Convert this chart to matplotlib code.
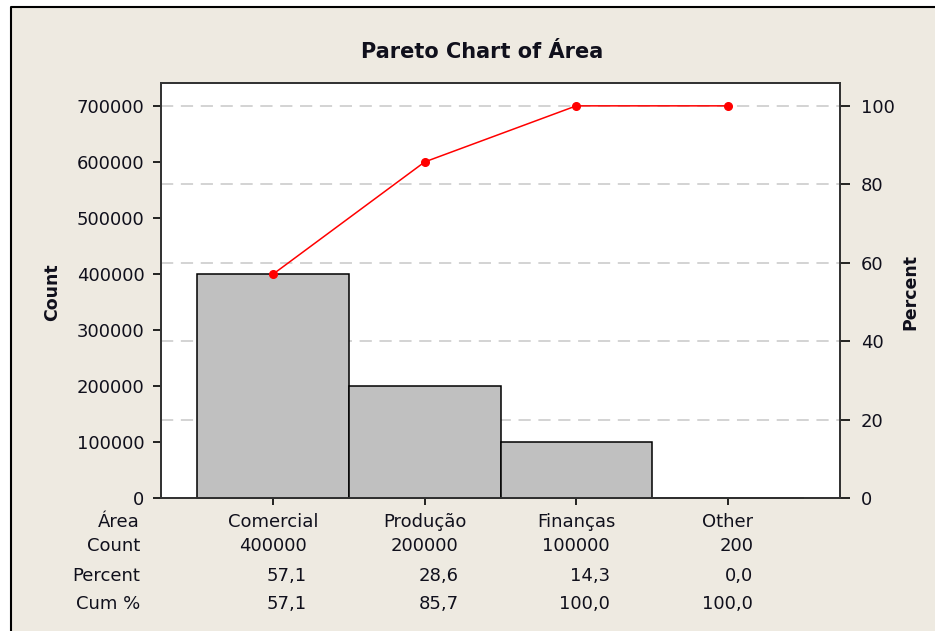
import matplotlib
matplotlib.use('Agg')
import matplotlib.pyplot as plt
import matplotlib.transforms as mtransforms
from matplotlib.patches import Rectangle
from matplotlib.lines import Line2D

# Pareto data
categories = ['Comercial', 'Produção', 'Finanças', 'Other']
counts = [400000, 200000, 100000, 200]
percents = [57.1, 28.6, 14.3, 0.0]
cum_percents = [57.1, 85.7, 100.0, 100.0]
count_ticks = [0, 100000, 200000, 300000, 400000, 500000, 600000, 700000]
percent_ticks = [0, 20, 40, 60, 80, 100]
row_labels = ['Área', 'Count', 'Percent', 'Cum %']

total = sum(counts)
bg = '#EEEAE1'
txt = '#10101c'
plt.rcParams['font.family'] = 'DejaVu Sans'

fig = plt.figure(figsize=(9.35, 6.31), dpi=100, facecolor=bg)
# white margin above and left of the framed panel
fx, fy = 11 / 935, 624 / 631
fig.patches.append(Rectangle((0, fy), 1, 1 - fy, transform=fig.transFigure,
                             facecolor='white', edgecolor='none', zorder=-10))
fig.patches.append(Rectangle((0, 0), fx, 1, transform=fig.transFigure,
                             facecolor='white', edgecolor='none', zorder=-10))
fig.lines.append(Line2D([fx, fx, 1], [0, fy, fy], transform=fig.transFigure,
                        color='black', linewidth=1.5, zorder=-9))

ax = fig.add_axes([161 / 935, 133 / 631, 679 / 935, 415 / 631])
ax.set_facecolor('white')
ymax = 741000
ax.set_ylim(0, ymax)
ax.set_xlim(-0.74, 3.74)

x = list(range(len(categories)))
bars = ax.bar(x, counts, width=1.0, color='#C0C0C0', edgecolor='black', linewidth=1.1, zorder=3)
for b in bars:
    b.set_clip_on(False)

# dashed grid at the percent ticks, behind the bars
for p in percent_ticks[1:]:
    ax.axhline(p / 100 * total, color='#C8C8C8', linestyle=(0, (8, 5)), linewidth=1.1, zorder=0)

ax.set_yticks(count_ticks)
ax.set_yticklabels([str(v) for v in count_ticks])
ax.set_xticks(x)
ax.set_xticklabels([])
ax.tick_params(axis='y', direction='out', length=6, width=1.2, pad=6, labelsize=13, labelcolor=txt)
ax.tick_params(axis='x', direction='out', length=5, width=1.2, labelsize=13)
for s in ax.spines.values():
    s.set_color('#333333')
    s.set_linewidth(1.3)

ax2 = ax.twinx()
ax2.set_ylim(0, ymax / total * 100)
ax2.plot(x, cum_percents, color='#FF0000', linewidth=1.1, marker='o', markersize=5.5, zorder=3)
ax2.set_yticks(percent_ticks)
ax2.tick_params(axis='y', direction='out', length=7, width=1.2, pad=8, labelsize=13, labelcolor=txt)
for s in ax2.spines.values():
    s.set_color('#333333')
    s.set_linewidth(1.3)

fig.text(482 / 935, (631 - 52) / 631, 'Pareto Chart of Área', ha='center', va='center',
         fontsize=15, fontweight='bold', color=txt)
fig.text(52 / 935, (631 - 292) / 631, 'Count', rotation=90, ha='center', va='center',
         fontsize=12.5, fontweight='bold', color=txt)
fig.text(910 / 935, (631 - 292) / 631, 'Percent', rotation=90, ha='center', va='center',
         fontsize=12.5, fontweight='bold', color=txt)

# table under the axis
baselines = [(631 - 527) / 631, (631 - 551) / 631, (631 - 581) / 631, (631 - 609) / 631]
for lab, yb in zip(row_labels, baselines):
    fig.text(140 / 935, yb, lab, ha='right', va='baseline', fontsize=13, color=txt)

renderer = fig.canvas.get_renderer()
blend = mtransforms.blended_transform_factory(ax.transData, fig.transFigure)
for i, cat in enumerate(categories):
    rows = [f'{counts[i]}', f'{percents[i]:.1f}'.replace('.', ','),
            f'{cum_percents[i]:.1f}'.replace('.', ',')]
    widths = []
    for r in rows:
        t = fig.text(0, 0, r, fontsize=13)
        widths.append(t.get_window_extent(renderer).width)
        t.remove()
    tr = mtransforms.offset_copy(blend, fig=fig, x=max(widths) / 2, y=0, units='dots')
    fig.text(i, baselines[0], cat, transform=blend, ha='center', va='baseline', fontsize=13, color=txt)
    for r, yb in zip(rows, baselines[1:]):
        fig.text(i, yb, r, transform=tr, ha='right', va='baseline', fontsize=13, color=txt)

fig.savefig('out.png', dpi=100, facecolor=fig.get_facecolor())
